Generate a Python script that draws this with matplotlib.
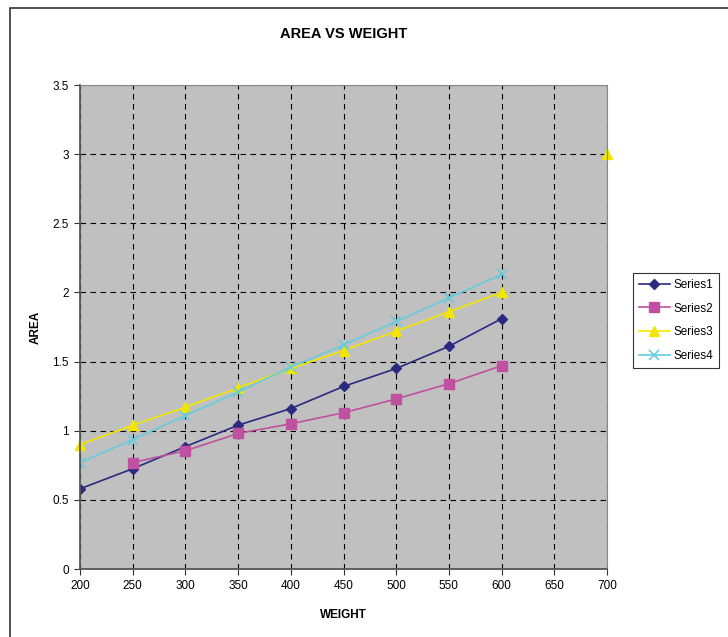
import numpy as np
import matplotlib
matplotlib.use("Agg")
import matplotlib.pyplot as plt
from matplotlib.patches import Rectangle

plt.rcParams['font.family'] = ['Liberation Sans', 'DejaVu Sans']

# data
weight = [200, 250, 300, 350, 400, 450, 500, 550, 600, 650, 700]
series1 = [0.58, 0.725, 0.885, 1.04, 1.16, 1.32, 1.45, 1.61, 1.81, np.nan, np.nan]
series2 = [np.nan, 0.77, 0.855, 0.98, 1.05, 1.13, 1.23, 1.34, 1.47, np.nan, np.nan]
series3 = [0.90, 1.04, 1.17, 1.31, 1.45, 1.58, 1.72, 1.86, 2.0, np.nan, 3.0]
series4 = [0.77, 0.935, 1.11, 1.28, 1.46, 1.62, 1.79, 1.96, 2.13, np.nan, np.nan]

x_ticks = [200, 250, 300, 350, 400, 450, 500, 550, 600, 650, 700]
y_ticks = [0, 0.5, 1, 1.5, 2, 2.5, 3, 3.5]
y_labels = ['0', '0.5', '1', '1.5', '2', '2.5', '3', '3.5']

fig = plt.figure(figsize=(7.28, 6.37), dpi=100)
ax = fig.add_axes([80/728, 1 - 569/637, 527/728, 484/637])

# chart frame
fig.patches.append(Rectangle((10/728, -0.1), 1.0, 1 - 8/637 + 0.1,
                             transform=fig.transFigure, fill=False,
                             edgecolor='#333333', linewidth=1.2))

ax.set_facecolor('#C0C0C0')
ax.set_xlim(200, 700)
ax.set_ylim(0, 3.5)
ax.set_xticks(x_ticks)
ax.set_yticks(y_ticks)
ax.set_yticklabels(y_labels)
ax.grid(True, color='black', linestyle=(0, (5, 4)), linewidth=0.8)
ax.set_axisbelow(True)

ax.plot(weight, series1, color='#2A2A80', marker='D', markersize=5, linewidth=1.2, label='Series1')
ax.plot(weight, series2, color='#C050A0', marker='s', markersize=6.5, linewidth=1.2, label='Series2')
ax.plot(weight, series3, color='#F2E600', marker='^', markersize=7, linewidth=1.2, label='Series3', clip_on=False)
ax.plot(weight, series4, color='#66CCDD', marker='x', markersize=7, markeredgewidth=1.2, linewidth=1.2, label='Series4')

for s in ['left', 'bottom']:
    ax.spines[s].set_color('#555555')
    ax.spines[s].set_linewidth(1.3)
for s in ['top', 'right']:
    ax.spines[s].set_color('#888888')
    ax.spines[s].set_linewidth(0.8)

ax.tick_params(axis='both', direction='out', length=4, width=0.8, color='#333333',
               labelsize=8.5, pad=4)

ax.set_title('AREA VS WEIGHT', fontsize=10.5, fontweight='bold', pad=34)
ax.set_xlabel('WEIGHT', fontsize=8.5, fontweight='bold', labelpad=12)
ax.set_ylabel('AREA', fontsize=8.5, fontweight='bold', labelpad=8)

leg = fig.legend(loc='center left', bbox_to_anchor=(633/728, 0.497),
                 fontsize=8.5, frameon=True, fancybox=False, handlelength=2.6,
                 borderpad=0.5, labelspacing=1.0, handletextpad=0.3, borderaxespad=0)
leg.get_frame().set_edgecolor('black')
leg.get_frame().set_linewidth(0.8)

fig.savefig('out.png', dpi=100)
